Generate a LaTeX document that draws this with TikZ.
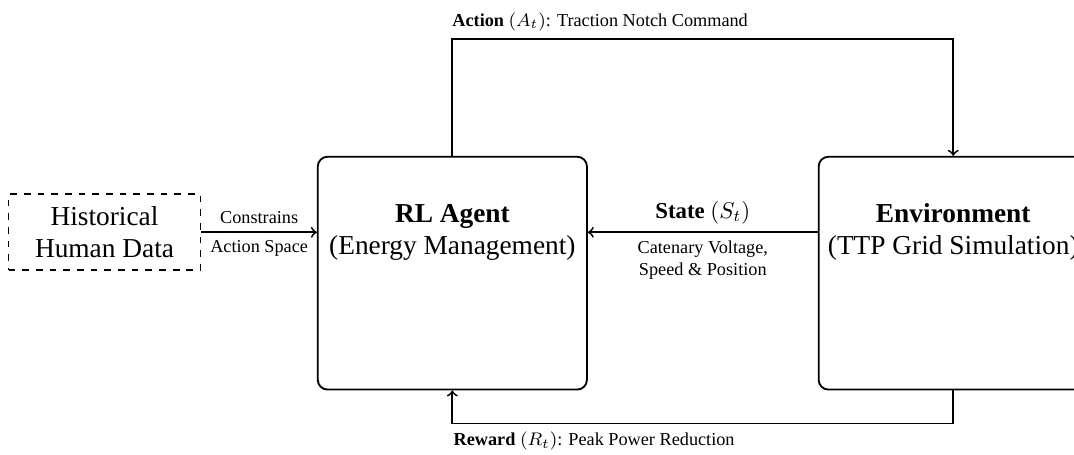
\documentclass[tikz,border=0pt]{standalone}
\usepackage{fontspec}
\setmainfont{Liberation Serif}
\usetikzlibrary{positioning,calc}

\begin{document}
\begin{tikzpicture}[
    node distance=17.8mm and 35.45mm,
    rlbox/.style={
      draw=black,
      thick,
      rounded corners=1.5mm,
      minimum width=41.5mm,
      minimum height=35.9mm
    },
    databox/.style={
      draw=black,
      thick,
      dashed,
      minimum width=29.6mm,
      minimum height=11.7mm,
      align=center,
      font=\large
    },
    boxtext/.style={
      align=center,
      font=\large
    },
    smalllabel/.style={
      font=\footnotesize,
      align=center
    },
    rlarrow/.style={
      ->,
      thick
    }
  ]
  \useasboundingbox (0,0) rectangle (165.6mm,70.1mm);

  \node[rlbox] (agent) at (69.75mm,27.98mm) {};
  \node[rlbox, right=35.45mm of agent] (env) {};

  % arrow height, a bit above the box centres
  \coordinate (agentin) at ($(agent.west)+(0,6.3mm)$);
  \coordinate (agentout) at ($(agent.east)+(0,6.3mm)$);
  \coordinate (envin) at ($(env.west)+(0,6.3mm)$);

  \node[databox, left=17.8mm of agentin] (hist) {Historical\\Human Data};
  \node[boxtext] (agenttxt) at (agent |- hist) {\textbf{RL Agent}\\(Energy Management)};
  \node[boxtext] (envtxt) at (env |- hist) {\textbf{Environment}\\(TTP Grid Simulation)};

  % side inputs
  \draw[rlarrow] (hist.east) -- node[above, smalllabel] {Constrains} node[below, smalllabel] {Action Space} (agentin);
  \draw[rlarrow] (envin) -- node[above] {\textbf{State} $(S_t)$} node[below, smalllabel] {Catenary Voltage,\\Speed \& Position} (agentout);

  % action over the top
  \coordinate (actA) at ($(agent.north)+(0,18mm)$);
  \coordinate (actB) at ($(env.north)+(0,18mm)$);
  \draw[rlarrow] (agent.north) -- (actA) -- node[above, pos=0.295, smalllabel] {\textbf{Action} $(A_t)$: Traction Notch Command} (actB) -- (env.north);

  % reward back underneath
  \coordinate (rewA) at ($(env.south)+(0,-5.1mm)$);
  \coordinate (rewB) at ($(agent.south)+(0,-5.1mm)$);
  \draw[rlarrow] (env.south) -- (rewA) -- node[below, pos=0.717, smalllabel] {\textbf{Reward} $(R_t)$: Peak Power Reduction} (rewB) -- (agent.south);

\end{tikzpicture}
\end{document}
